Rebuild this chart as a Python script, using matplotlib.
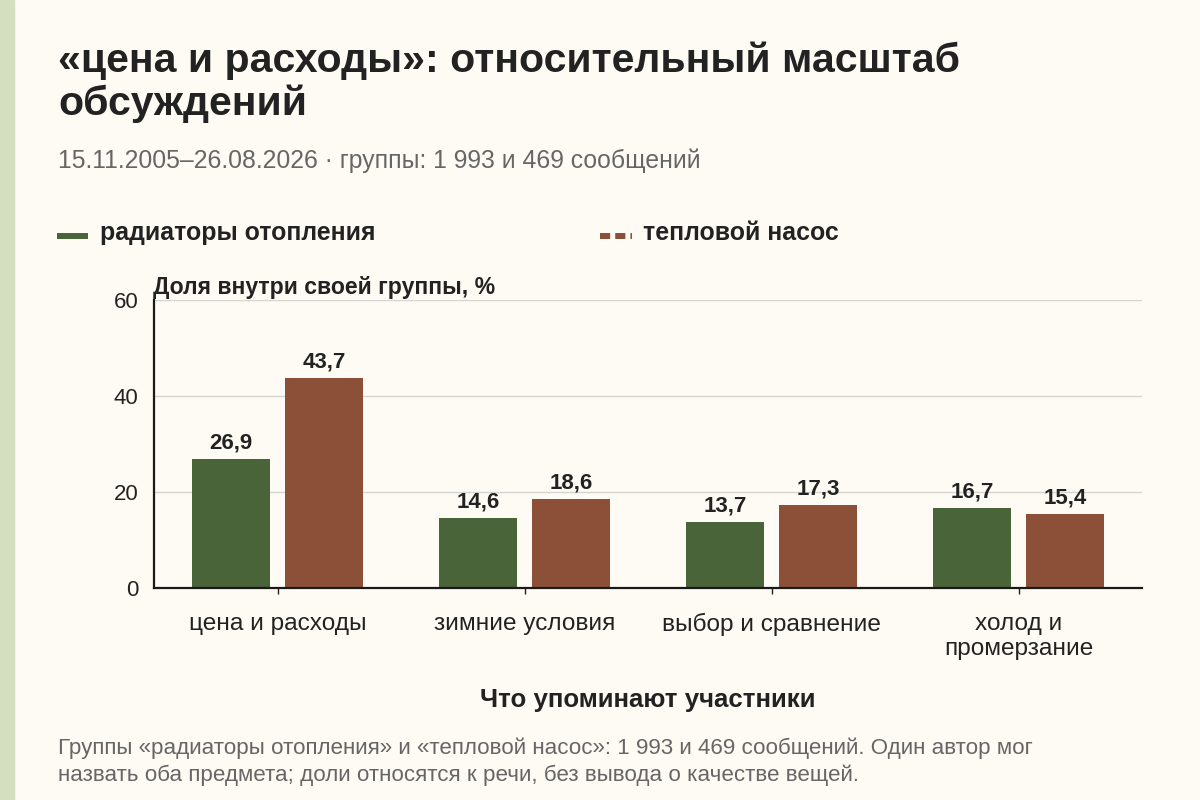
import numpy as np
import matplotlib.pyplot as plt
from matplotlib.lines import Line2D

categories = ["цена и расходы", "зимние условия", "выбор и сравнение", "холод и\nпромерзание"]
radiators = [26.9, 14.6, 13.7, 16.7]
heat_pump = [43.7, 18.6, 17.3, 15.4]
series_names = ["радиаторы отопления", "тепловой насос"]
yticks = [0, 20, 40, 60]

GREEN = "#4a6439"
BROWN = "#8c4f38"
BG = "#fdfbf3"
INK = "#222222"
GREY = "#666666"

plt.rcParams['font.family'] = ['Liberation Sans', 'DejaVu Sans']

W, H = 1200, 800
fig = plt.figure(figsize=(12, 8), dpi=100, facecolor=BG)
ax = fig.add_axes([154 / W, 1 - 588 / H, 988 / W, 288 / H])
ax.set_facecolor(BG)


def fx(px):
    return px / W


def fy(px):
    return 1 - px / H


# left accent strip
fig.patches.append(plt.Rectangle((0, 0), fx(14), 1, transform=fig.transFigure,
                                 color="#d3dfbf", zorder=0))

x = np.arange(len(categories))
w = 0.315
off = 0.188
b1 = ax.bar(x - off, radiators, w, color=GREEN, zorder=3)
b2 = ax.bar(x + off, heat_pump, w, color=BROWN, zorder=3)
for bars, vals in ((b1, radiators), (b2, heat_pump)):
    for r, v in zip(bars, vals):
        ax.annotate(f"{v:.1f}".replace(".", ","), (r.get_x() + r.get_width() / 2, v),
                    xytext=(0, 4), textcoords="offset points", ha="center", va="bottom",
                    fontsize=16, fontweight="bold", color=INK)

ax.set_xlim(-0.5, 3.5)
ax.set_ylim(0, 60)
ax.set_yticks(yticks)
ax.set_yticklabels([str(t) for t in yticks], fontsize=16, color=INK)
ax.set_xticks(x)
ax.set_xticklabels(categories, fontsize=17.6, color=INK, linespacing=1.2)
ax.tick_params(axis="y", length=0, pad=11)
ax.tick_params(axis="x", length=4, width=1, pad=14, color=INK)
ax.grid(axis="y", color="#d4d4d0", lw=1, zorder=0)
for s in ("top", "right"):
    ax.spines[s].set_visible(False)
for s in ("left", "bottom"):
    ax.spines[s].set_linewidth(1.6)
    ax.spines[s].set_color("#1a1a1a")
ax.spines["bottom"].set_zorder(4)

fig.text(fx(648), fy(707), "Что упоминают участники", fontsize=18.6, fontweight="bold",
         color=INK, ha="center", va="baseline")
fig.text(fx(153), fy(294), "Доля внутри своей группы, %", fontsize=16.6,
         fontweight="bold", color=INK, va="baseline")

# titles
fig.text(fx(58), fy(72), "«цена и расходы»: относительный масштаб",
         fontsize=29.5, fontweight="bold", color=INK, va="baseline")
fig.text(fx(58), fy(115), "обсуждений",
         fontsize=29.5, fontweight="bold", color=INK, va="baseline")
fig.text(fx(58), fy(168), "15.11.2005–26.08.2026 · группы: 1 993 и 469 сообщений",
         fontsize=17.8, color=GREY, va="baseline")

# legend
fig.add_artist(Line2D([fx(57), fx(88)], [fy(236)] * 2, color=GREEN, lw=4.3,
                      solid_capstyle="butt", transform=fig.transFigure))
fig.text(fx(100), fy(240), series_names[0], fontsize=17.9, fontweight="bold",
         color=INK, va="baseline")
fig.add_artist(Line2D([fx(600), fx(632)], [fy(236)] * 2, color=BROWN, lw=4.3,
                      dashes=(1.7, 0.85), dash_capstyle="butt", transform=fig.transFigure))
fig.text(fx(643), fy(240), series_names[1], fontsize=17.9, fontweight="bold",
         color=INK, va="baseline")

fig.text(fx(58), fy(748), "Группы «радиаторы отопления» и «тепловой насос»: 1 993 и 469 сообщений. Один автор мог",
         fontsize=16.15, color=GREY, va="center")
fig.text(fx(58), fy(775), "назвать оба предмета; доли относятся к речи, без вывода о качестве вещей.",
         fontsize=16.15, color=GREY, va="center")

fig.savefig("out.png", dpi=100, facecolor=BG)
